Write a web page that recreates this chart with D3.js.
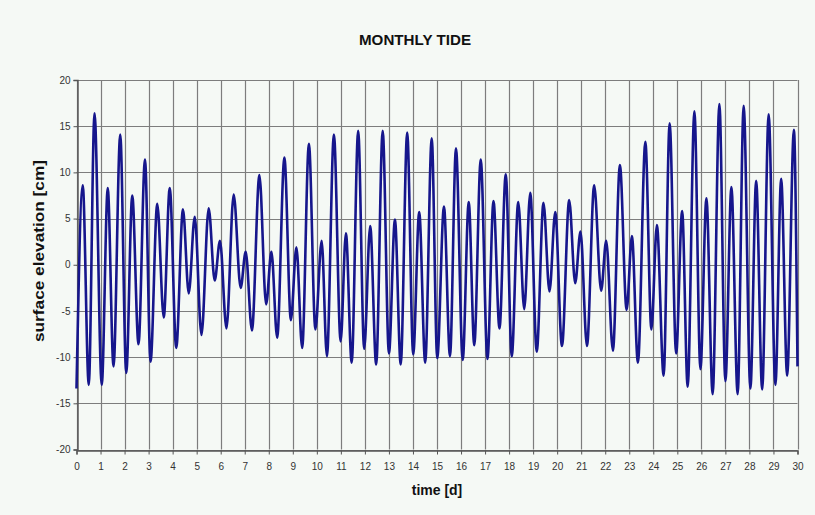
<!DOCTYPE html>
<html><head><meta charset="utf-8">
<script src="https://cdn.jsdelivr.net/npm/d3@7"></script>
<style>html,body{margin:0;padding:0;background:#f5f9f5;}svg{display:block;}</style>
</head><body>
<svg id="c" width="815" height="515"></svg>
<script>
// Extrema of the tidal record (time in days, elevation in cm)
const tideTime = [0.00,0.26,0.51,0.75,1.05,1.30,1.54,1.82,2.07,2.32,2.58,2.85,3.08,3.36,3.63,3.88,4.15,4.43,4.67,4.92,
  5.20,5.50,5.75,5.97,6.24,6.54,6.83,7.04,7.30,7.61,7.89,8.11,8.35,8.65,8.92,9.15,9.39,9.67,9.94,
  10.20,10.42,10.71,10.99,11.21,11.45,11.72,11.97,12.22,12.47,12.74,13.00,13.25,13.49,13.76,14.01,14.26,14.51,14.78,
  15.01,15.29,15.54,15.79,16.07,16.32,16.55,16.82,17.10,17.35,17.60,17.86,18.11,18.38,18.63,18.88,19.15,19.43,19.68,19.92,
  20.20,20.50,20.75,20.97,21.24,21.54,21.83,22.04,22.32,22.61,22.89,23.11,23.36,23.67,23.92,24.15,24.43,24.68,24.95,
  25.20,25.43,25.71,25.96,26.21,26.47,26.75,27.00,27.25,27.51,27.76,28.04,28.28,28.53,28.80,29.08,29.32,29.57,29.85,30.00];
const tideLevel = [-13.4,8.6,-13.0,16.4,-13.0,8.3,-11.0,14.1,-11.7,7.5,-8.6,11.4,-10.5,6.6,-5.7,8.3,-9.0,6.0,-3.1,5.2,
  -7.6,6.1,-1.7,2.6,-6.9,7.6,-2.5,1.4,-7.1,9.7,-4.3,1.4,-7.9,11.6,-6.0,1.9,-9.0,13.1,-7.0,
  2.6,-9.9,14.1,-8.3,3.4,-10.6,14.5,-9.1,4.2,-10.8,14.5,-9.6,4.9,-10.8,14.3,-9.7,5.7,-10.6,13.7,
  -10.1,6.3,-9.9,12.6,-10.3,6.8,-8.7,11.4,-10.2,6.9,-6.9,9.8,-9.9,6.8,-4.8,7.8,-9.4,6.7,-2.9,5.7,
  -8.8,7.0,-2.0,3.6,-8.8,8.6,-2.8,2.6,-9.3,10.8,-4.9,3.1,-10.6,13.3,-7.0,4.3,-12.0,15.3,-9.6,
  5.8,-13.2,16.6,-11.3,7.2,-14.0,17.4,-12.6,8.4,-14.0,17.2,-13.4,9.1,-13.5,16.3,-13.0,9.3,-12.0,14.6,-11.0];
const xTicks = d3.range(0, 31, 1);
const yTicks = [-20,-15,-10,-5,0,5,10,15,20];
const titleText = "MONTHLY TIDE";
const xLabel = "time [d]";
const yLabel = "surface elevation [cm]";

const data = tideTime.map((t, i) => ({t, v: tideLevel[i]}));
const svg = d3.select("#c");
const m = {left: 76.5, right: 797.5, top: 80, bottom: 449.5};
const x = d3.scaleLinear().domain([0, 30]).range([m.left, m.right]);
const y = d3.scaleLinear().domain([-20, 20]).range([m.bottom, m.top]);
const font = "'Liberation Sans', Arial, sans-serif";

svg.append("rect").attr("width", 815).attr("height", 515).attr("fill", "#f5f9f5");

// grid
const g = svg.append("g");
g.selectAll("line.v").data(xTicks).join("line")
  .attr("x1", d => Math.round(x(d)) + 0.5).attr("x2", d => Math.round(x(d)) + 0.5)
  .attr("y1", m.top).attr("y2", m.bottom).attr("stroke", "#7d7d7d").attr("stroke-width", 1.2);
g.selectAll("line.h").data(yTicks).join("line")
  .attr("y1", d => Math.round(y(d)) + 0.5).attr("y2", d => Math.round(y(d)) + 0.5)
  .attr("x1", m.left).attr("x2", m.right).attr("stroke", "#7d7d7d").attr("stroke-width", 1.2);

// axes
const fmt = d => String(d);
const xAxis = svg.append("g").attr("transform", `translate(0,${Math.round(y(-20)) + 0.5})`)
  .call(d3.axisBottom(x).tickValues(xTicks).tickFormat(fmt).tickSize(4).tickPadding(8));
const yAxis = svg.append("g").attr("transform", `translate(${Math.round(x(0)) + 0.5},0)`)
  .call(d3.axisLeft(y).tickValues(yTicks).tickFormat(fmt).tickSize(4).tickPadding(3));
[xAxis, yAxis].forEach(a => {
  a.select(".domain").attr("stroke", "#555").attr("stroke-width", 1.4);
  a.selectAll(".tick line").attr("stroke", "#555");
  a.selectAll("text").attr("font-family", font).attr("font-size", 10).attr("fill", "#333");
});

// line
svg.append("path").datum(data)
  .attr("d", d3.line().x(d => x(d.t)).y(d => y(d.v)).curve(d3.curveMonotoneX))
  .attr("fill", "none").attr("stroke", "#16168c").attr("stroke-width", 2.6)
  .attr("stroke-linejoin", "round");

// titles
svg.append("text").attr("x", 415).attr("y", 45).attr("text-anchor", "middle")
  .attr("font-family", font).attr("font-weight", "bold").attr("font-size", 14).attr("fill", "#111")
  .attr("textLength", 112).attr("lengthAdjust", "spacingAndGlyphs")
  .text(titleText);
svg.append("text").attr("x", 437).attr("y", 495).attr("text-anchor", "middle")
  .attr("font-family", font).attr("font-weight", "bold").attr("font-size", 14).attr("fill", "#111")
  .text(xLabel);
svg.append("text").attr("transform", "translate(44,251) rotate(-90)").attr("text-anchor", "middle")
  .attr("font-family", font).attr("font-weight", "bold").attr("font-size", 14).attr("fill", "#111")
  .attr("textLength", 182).attr("lengthAdjust", "spacingAndGlyphs")
  .text(yLabel);
</script>
</body></html>
